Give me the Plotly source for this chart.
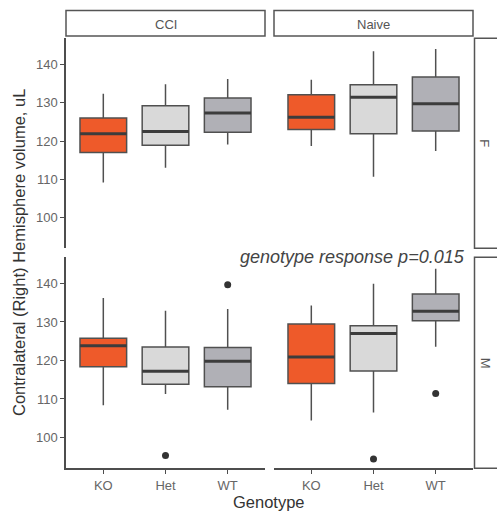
import plotly.graph_objects as go

W, H = 497, 512

genotypes = ["KO", "Het", "WT"]
injuries = ["CCI", "Naive"]
sexes = ["F", "M"]
colors = ["#EE5A2A", "#D9D9D9", "#B0B0B6"]

# stats per (sex, injury): lists over genotypes [KO, Het, WT]
lower = {
    ("F", "CCI"): [109.2, 113.0, 119.1],
    ("F", "Naive"): [118.7, 110.7, 117.4],
    ("M", "CCI"): [108.4, 111.3, 107.2],
    ("M", "Naive"): [104.4, 106.5, 123.6],
}
q1 = {
    ("F", "CCI"): [117.0, 118.9, 122.3],
    ("F", "Naive"): [123.0, 121.9, 122.6],
    ("M", "CCI"): [118.4, 113.8, 113.2],
    ("M", "Naive"): [114.0, 117.3, 130.3],
}
median = {
    ("F", "CCI"): [121.9, 122.5, 127.3],
    ("F", "Naive"): [126.2, 131.4, 129.7],
    ("M", "CCI"): [123.8, 117.2, 119.8],
    ("M", "Naive"): [120.9, 127.0, 132.8],
}
q3 = {
    ("F", "CCI"): [126.0, 129.2, 131.2],
    ("F", "Naive"): [132.1, 134.7, 136.7],
    ("M", "CCI"): [125.8, 123.5, 123.4],
    ("M", "Naive"): [129.5, 129.0, 137.3],
}
upper = {
    ("F", "CCI"): [132.3, 134.8, 136.2],
    ("F", "Naive"): [136.0, 143.4, 144.0],
    ("M", "CCI"): [136.2, 132.9, 133.4],
    ("M", "Naive"): [134.3, 139.9, 143.8],
}
outliers = {
    ("M", "CCI"): [("Het", 95.3), ("WT", 139.7)],
    ("M", "Naive"): [("Het", 94.4), ("WT", 111.4)],
}

y_range = [92.0, 146.8]
x_range = [-0.6, 2.6]
box_w = 0.75
FONT = "Liberation Sans, Arial, sans-serif"

# panel pixel boxes (left, top, right, bottom)
col_px = {"CCI": (66, 265), "Naive": (274, 473)}
row_px = {"F": (38.3, 248.3), "M": (257.3, 468.3)}

def px_x(p):
    return p / W

def px_y(p):
    return 1 - p / H

fig = go.Figure()
axis_ids = {}
n = 0
for r, sex in enumerate(sexes):
    for c, inj in enumerate(injuries):
        n += 1
        suffix = "" if n == 1 else str(n)
        axis_ids[(sex, inj)] = suffix
        xl, xr = col_px[inj]
        yt, yb = row_px[sex]
        is_left = c == 0
        is_bottom = r == 1
        fig.layout["xaxis" + suffix] = dict(
            domain=[px_x(xl), px_x(xr)], range=x_range, anchor="y" + suffix,
            tickvals=[0, 1, 2], ticktext=genotypes,
            showticklabels=is_bottom, ticks="outside" if is_bottom else "",
            ticklen=4, tickwidth=1.3, tickcolor="#4d4d4d",
            showline=is_bottom, linecolor="#4d4d4d", linewidth=1.5,
            showgrid=False, zeroline=False,
            tickfont=dict(size=13, color="#666666", family=FONT),
        )
        fig.layout["yaxis" + suffix] = dict(
            domain=[px_y(yb), px_y(yt)], range=y_range, anchor="x" + suffix,
            tickvals=[100, 110, 120, 130, 140],
            showticklabels=is_left, ticks="outside" if is_left else "",
            ticklen=4, tickwidth=1.3, tickcolor="#4d4d4d",
            showline=is_left, linecolor="#4d4d4d", linewidth=1.5,
            showgrid=False, zeroline=False,
            tickfont=dict(size=13, color="#666666", family=FONT),
        )

for sex in sexes:
    for inj in injuries:
        key = (sex, inj)
        s = axis_ids[key]
        xa, ya = "x" + s, "y" + s
        for i, g in enumerate(genotypes):
            fig.add_trace(go.Box(
                x=[i], q1=[q1[key][i]], median=[median[key][i]], q3=[q3[key][i]],
                lowerfence=[lower[key][i]], upperfence=[upper[key][i]],
                width=box_w, whiskerwidth=0, fillcolor=colors[i],
                line=dict(color="#505050", width=1.5), boxpoints=False,
                xaxis=xa, yaxis=ya, showlegend=False, hoverinfo="skip",
            ))
            # thick median line (ggplot style)
            fig.add_trace(go.Scatter(
                x=[i - box_w / 2, i + box_w / 2], y=[median[key][i]] * 2,
                mode="lines", line=dict(color="#3c3c3c", width=3),
                xaxis=xa, yaxis=ya, showlegend=False, hoverinfo="skip",
            ))
        if key in outliers:
            ox = [genotypes.index(g) for g, v in outliers[key]]
            oy = [v for g, v in outliers[key]]
            fig.add_trace(go.Scatter(
                x=ox, y=oy, mode="markers",
                marker=dict(color="#333333", size=7),
                xaxis=xa, yaxis=ya, showlegend=False, hoverinfo="skip",
            ))

shapes = []
annotations = []
strip_line = dict(color="#555555", width=1.5)
# top strips
for inj in injuries:
    xl, xr = col_px[inj]
    shapes.append(dict(type="rect", xref="paper", yref="paper",
                       x0=px_x(xl), x1=px_x(xr), y0=px_y(36), y1=px_y(10.5),
                       line=strip_line, fillcolor="white", layer="below"))
    annotations.append(dict(text=inj, xref="paper", yref="paper",
                            x=px_x((xl + xr) / 2), y=px_y(24), xanchor="center", yanchor="middle",
                            showarrow=False,
                            font=dict(size=13, color="#555555", family=FONT)))
# right strips
for sex in sexes:
    yt, yb = row_px[sex]
    shapes.append(dict(type="rect", xref="paper", yref="paper",
                       x0=px_x(474.5), x1=px_x(505), y0=px_y(yb), y1=px_y(yt),
                       line=strip_line, fillcolor="white", layer="below"))
    annotations.append(dict(text=sex, xref="paper", yref="paper",
                            x=px_x(485), y=px_y((yt + yb) / 2), xanchor="center", yanchor="middle",
                            showarrow=False, textangle=90,
                            font=dict(size=13, color="#555555", family=FONT)))

annotations.append(dict(text="Contralateral (Right) Hemisphere volume, uL", xref="paper", yref="paper",
                        x=px_x(19), y=px_y(253), xanchor="center", yanchor="middle",
                        showarrow=False, textangle=-90,
                        font=dict(size=16.5, color="#333333", family=FONT)))
annotations.append(dict(text="Genotype", xref="paper", yref="paper",
                        x=px_x(269), y=px_y(502), xanchor="center", yanchor="middle",
                        showarrow=False,
                        font=dict(size=16.5, color="#333333", family=FONT)))
annotations.append(dict(text="<i>genotype response p=0.015</i>", xref="paper", yref="paper",
                        x=px_x(467), y=px_y(257), xanchor="right", yanchor="middle",
                        showarrow=False,
                        font=dict(size=18, color="#444444", family=FONT)))

fig.update_layout(
    width=W, height=H, autosize=False,
    margin=dict(l=0, r=0, t=0, b=0),
    paper_bgcolor="white", plot_bgcolor="rgba(0,0,0,0)",
    shapes=shapes, annotations=annotations, showlegend=False,
)

fig.write_html("out.html")
